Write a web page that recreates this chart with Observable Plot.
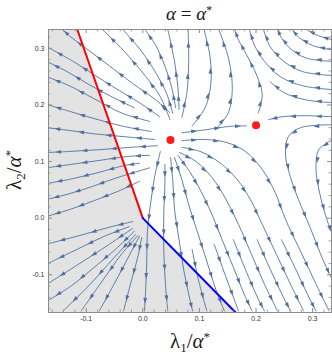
<!DOCTYPE html>
<html><head><meta charset="utf-8">
<script src="https://cdn.jsdelivr.net/npm/d3@7"></script>
<script src="https://cdn.jsdelivr.net/npm/@observablehq/plot@0.6"></script>
<style>
body{margin:0;background:#fff;}
#wrap{position:relative;width:332px;height:357px;overflow:hidden;}
#chart{position:absolute;left:0;top:0;}
.lab{position:absolute;font-family:"Liberation Serif","DejaVu Serif",serif;color:#1a1a1a;white-space:nowrap;transform:translate(-50%,-50%);line-height:1;}
.lab sub,.lab sup{font-size:0.62em;vertical-align:baseline;position:relative;}
.lab sub{top:0.32em;}
.lab sup{top:-0.55em;}
</style></head><body>
<div id="wrap">
  <div id="chart"></div>
  <div class="lab" style="left:189px;top:13px;font-size:19px;"><i>α</i> = <i>α</i><sup>*</sup></div>
  <div class="lab" style="left:190px;top:341px;font-size:21px;">λ<sub>1</sub>/<i>α</i><sup>*</sup></div>
  <div class="lab" style="left:14px;top:170px;font-size:21px;transform:translate(-50%,-50%) rotate(-90deg);">λ<sub>2</sub>/<i>α</i><sup>*</sup></div>
</div>
<script>
// axis domains and tick labels
const xDomain = [-1/6, 1/3];
const yDomain = [-1/6, 1/3];
const majorTicks = [-0.1, 0.0, 0.1, 0.2, 0.3];
const minorTicks = [-0.16,-0.14,-0.12,-0.08,-0.06,-0.04,-0.02,0.02,0.04,0.06,0.08,0.12,0.14,0.16,0.18,0.22,0.24,0.26,0.28,0.32];

// boundary lines and fixed points [lambda1, lambda2]
const redLine = [[0, 0], [-0.1158, 0.3333]];
const blueLine = [[0, 0], [0.164, -0.1667]];
const fixedPoints = [[0.0488, 0.138], [0.200, 0.164]];

// streamlines (flow direction = order of points), [lambda1, lambda2]
const upperLines = [
  [[0.048,0.186],[0.024,0.208],[-0.018,0.238],[-0.059,0.269],[-0.095,0.296],[-0.127,0.320],[-0.143,0.334]],
  [[0.048,0.174],[0.030,0.216],[0.003,0.253],[-0.034,0.296],[-0.072,0.334]],
  [[0.053,0.185],[0.042,0.220],[0.024,0.255],[-0.004,0.297],[-0.036,0.334]],
  [[0.058,0.195],[0.051,0.231],[0.040,0.266],[0.023,0.305],[0.003,0.334]],
  [[0.064,0.192],[0.062,0.231],[0.056,0.277],[0.044,0.334]],
  [[0.069,0.178],[0.078,0.223],[0.081,0.277],[0.080,0.334]],
  [[0.087,0.163],[0.110,0.195],[0.120,0.236],[0.119,0.283],[0.108,0.334]],
  [[0.128,0.156],[0.151,0.186],[0.158,0.227],[0.152,0.280],[0.134,0.334]],
  [[0.204,0.186],[0.211,0.218],[0.201,0.253],[0.183,0.289],[0.169,0.315],[0.162,0.334]]
];
const rightLines = [
  [[0.336,0.315],[0.311,0.322],[0.288,0.334]],
  [[0.336,0.297],[0.300,0.305],[0.275,0.320],[0.263,0.334]],
  [[0.336,0.277],[0.288,0.283],[0.259,0.301],[0.243,0.322],[0.238,0.334]],
  [[0.336,0.252],[0.282,0.259],[0.249,0.277],[0.225,0.303],[0.213,0.334]],
  [[0.336,0.227],[0.282,0.234],[0.243,0.250],[0.215,0.277],[0.197,0.306],[0.188,0.334]],
  [[0.336,0.204],[0.288,0.209],[0.249,0.222],[0.225,0.241]],
  [[0.336,0.179],[0.288,0.181],[0.245,0.179],[0.222,0.174]],
  [[0.069,0.151],[0.110,0.156],[0.151,0.162],[0.183,0.163]],
  [[0.336,0.165],[0.279,0.160],[0.257,0.144],[0.252,0.112],[0.261,0.072],[0.275,0.033],[0.297,-0.020],[0.318,-0.073],[0.336,-0.112]],
  [[0.336,0.139],[0.311,0.121],[0.306,0.086],[0.313,0.042],[0.325,-0.002],[0.336,-0.032]]
];
const lowerLines = [
  [[0.069,0.137],[0.110,0.139],[0.147,0.134],[0.181,0.118],[0.211,0.086],[0.234,0.045],[0.252,-0.002],[0.277,-0.055],[0.302,-0.108],[0.329,-0.164]],
  [[0.069,0.125],[0.101,0.118],[0.136,0.098],[0.167,0.068],[0.190,0.033],[0.211,-0.011],[0.236,-0.064],[0.261,-0.117],[0.284,-0.164]],
  [[0.065,0.116],[0.094,0.100],[0.122,0.072],[0.147,0.033],[0.169,-0.011],[0.192,-0.064],[0.215,-0.117],[0.238,-0.164]],
  [[0.062,0.111],[0.083,0.082],[0.103,0.047],[0.122,0.007],[0.140,-0.038],[0.160,-0.087],[0.179,-0.134],[0.193,-0.164]],
  [[0.056,0.107],[0.069,0.068],[0.081,0.024],[0.096,-0.023],[0.112,-0.073],[0.129,-0.126],[0.144,-0.164]],
  [[0.049,0.107],[0.053,0.065],[0.056,0.015],[0.064,-0.038],[0.072,-0.090],[0.083,-0.143],[0.088,-0.164]],
  [[0.039,0.095],[0.039,0.063],[0.037,0.007],[0.037,-0.055],[0.040,-0.117],[0.044,-0.164]],
  [[0.031,0.118],[0.021,0.074],[0.014,0.028],[0.008,-0.023],[0.007,-0.076],[0.005,-0.126],[0.003,-0.164]],
  [[0.087,-0.055],[0.098,-0.108],[0.113,-0.164]],
  [[0.126,-0.046],[0.145,-0.099],[0.169,-0.164]],
  [[0.160,-0.038],[0.181,-0.090],[0.204,-0.143],[0.215,-0.164]],
  [[0.202,-0.038],[0.225,-0.090],[0.250,-0.143],[0.261,-0.164]],
  [[0.245,-0.038],[0.270,-0.090],[0.295,-0.143],[0.306,-0.164]]
];
const leftLines = [
  [[0.030,0.179],[-0.006,0.204],[-0.041,0.225],[-0.081,0.250],[-0.123,0.277],[-0.170,0.303]],
  [[-0.015,0.195],[-0.056,0.215],[-0.095,0.236],[-0.134,0.259],[-0.170,0.277]],
  [[0.012,0.171],[-0.038,0.186],[-0.086,0.211],[-0.130,0.234],[-0.170,0.250]],
  [[0.015,0.153],[-0.038,0.163],[-0.086,0.176],[-0.127,0.188],[-0.170,0.201]],
  [[0.021,0.139],[-0.033,0.144],[-0.086,0.149],[-0.130,0.155],[-0.170,0.160]],
  [[0.026,0.128],[-0.024,0.125],[-0.077,0.121],[-0.127,0.118],[-0.170,0.116]],
  [[0.012,0.111],[-0.027,0.109],[-0.077,0.102],[-0.127,0.095],[-0.170,0.089]],
  [[-0.006,0.097],[-0.033,0.093],[-0.077,0.081],[-0.123,0.070],[-0.170,0.061]],
  [[0.012,0.089],[-0.050,0.070],[-0.095,0.054],[-0.134,0.042],[-0.170,0.033]],
  [[-0.006,0.065],[-0.045,0.047],[-0.086,0.031],[-0.130,0.015],[-0.170,0.003]]
];
const originLines = [
  [[-0.018,-0.006],[-0.059,-0.016],[-0.113,-0.031],[-0.170,-0.046]],
  [[-0.024,-0.015],[-0.068,-0.032],[-0.116,-0.055],[-0.170,-0.081]],
  [[-0.018,-0.018],[-0.059,-0.046],[-0.113,-0.081],[-0.170,-0.117]],
  [[-0.015,-0.023],[-0.045,-0.052],[-0.086,-0.087],[-0.127,-0.120],[-0.170,-0.147]],
  [[-0.013,-0.029],[-0.050,-0.069],[-0.098,-0.122],[-0.141,-0.164]],
  [[-0.009,-0.031],[-0.038,-0.064],[-0.073,-0.113],[-0.109,-0.164]],
  [[-0.006,-0.032],[-0.024,-0.066],[-0.050,-0.115],[-0.077,-0.164]],
  [[-0.002,-0.034],[-0.009,-0.069],[-0.022,-0.117],[-0.034,-0.164]]
];

const W = 332, H = 357, mL = 48, mR = 1, mT = 29, mB = 45;
const fw = W - mL - mR, fh = H - mT - mB;
const streamColor = "#50709f";
const frameColor = "#8c8c8c";

const allLines = [...upperLines, ...rightLines, ...lowerLines, ...leftLines, ...originLines];
const lineRows = [], arrowRows = [];
const kx = fw / (xDomain[1] - xDomain[0]), ky = fh / (yDomain[1] - yDomain[0]);
allLines.forEach((pts, k) => {
  pts.forEach(([a, b], i) => lineRows.push({k, i, l1: a, l2: b}));
  for (let i = 0; i < pts.length - 1; i++) {
    const [x0, y0] = pts[i], [x1, y1] = pts[i + 1];
    arrowRows.push({l1: (x0 + x1) / 2, l2: (y0 + y1) / 2,
      ang: Math.atan2((x1 - x0) * kx, (y1 - y0) * ky) * 180 / Math.PI});
  }
});

const arrowHead = {
  draw(ctx, size) {
    const s = Math.sqrt(size / Math.PI);
    ctx.moveTo(0, -1.5 * s);
    ctx.lineTo(0.85 * s, 1.0 * s);
    ctx.lineTo(-0.85 * s, 1.0 * s);
    ctx.closePath();
  }
};

const grayRegion = [...blueLine.slice().reverse(), redLine[1]];

const chart = Plot.plot({
  width: W, height: H,
  marginLeft: mL, marginRight: mR, marginTop: mT, marginBottom: mB,
  style: {fontFamily: "'Liberation Sans', Arial, sans-serif", fontSize: "7px", color: "#333", background: "transparent"},
  x: {domain: xDomain, ticks: majorTicks, tickSize: 0, tickPadding: 4, tickFormat: d => d.toFixed(1), label: null},
  y: {domain: yDomain, ticks: majorTicks, tickSize: 0, tickPadding: 4, tickFormat: d => d.toFixed(1), label: null},
  marks: [
    Plot.areaX(grayRegion, {x1: () => xDomain[0], x2: d => d[0], y: d => d[1], fill: "#e3e3e3"}),
    Plot.line(lineRows, {x: "l1", y: "l2", z: "k", curve: "catmull-rom", stroke: streamColor, strokeWidth: 0.9, clip: true}),
    Plot.dot(arrowRows, {x: "l1", y: "l2", rotate: "ang", symbol: arrowHead, r: 2.3, fill: streamColor, stroke: "none", clip: true}),
    Plot.line(redLine, {x: d => d[0], y: d => d[1], stroke: "#ff0000", strokeWidth: 2, clip: true}),
    Plot.line(blueLine, {x: d => d[0], y: d => d[1], stroke: "#0000ff", strokeWidth: 2, clip: true}),
    Plot.dot(fixedPoints, {x: d => d[0], y: d => d[1], r: 4, fill: "#ff1a1a", stroke: "none"}),
    Plot.frame({stroke: frameColor, strokeWidth: 1}),
    Plot.ruleX(majorTicks, {x: d => d, stroke: frameColor, insetTop: fh - 4}),
    Plot.ruleX(majorTicks, {x: d => d, stroke: frameColor, insetBottom: fh - 4}),
    Plot.ruleX(minorTicks, {x: d => d, stroke: frameColor, strokeOpacity: 0.8, insetTop: fh - 2.5}),
    Plot.ruleX(minorTicks, {x: d => d, stroke: frameColor, strokeOpacity: 0.8, insetBottom: fh - 2.5}),
    Plot.ruleY(majorTicks, {y: d => d, stroke: frameColor, insetRight: fw - 4}),
    Plot.ruleY(majorTicks, {y: d => d, stroke: frameColor, insetLeft: fw - 4}),
    Plot.ruleY(minorTicks, {y: d => d, stroke: frameColor, strokeOpacity: 0.8, insetRight: fw - 2.5}),
    Plot.ruleY(minorTicks, {y: d => d, stroke: frameColor, strokeOpacity: 0.8, insetLeft: fw - 2.5})
  ]
});
document.getElementById("chart").appendChild(chart);
</script>
</body></html>
